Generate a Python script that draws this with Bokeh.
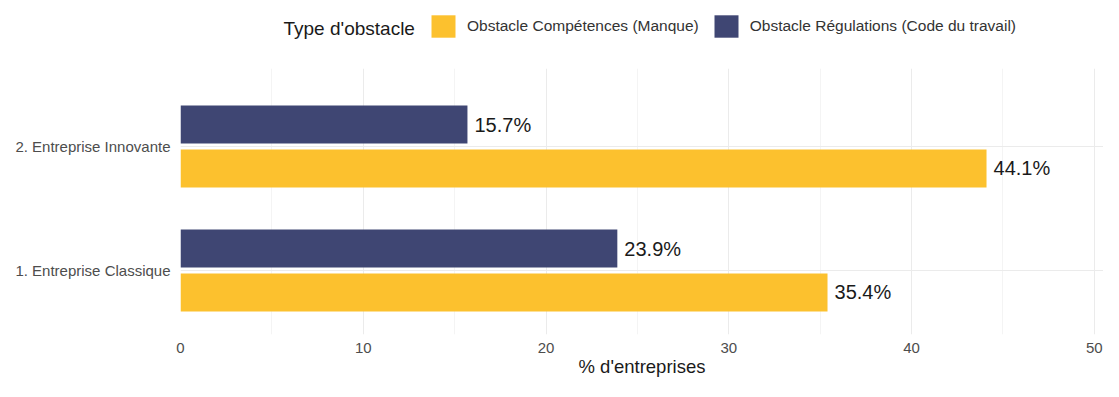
from bokeh.plotting import figure
from bokeh.layouts import column
from bokeh.models import (ColumnDataSource, FixedTicker, LinearAxis, Legend, LegendItem,
                          Range1d, Grid, Label)
from bokeh.transform import dodge
from bokeh.core.properties import value
from bokeh.embed import file_html
from bokeh.resources import INLINE

categories = ["1. Entreprise Classique", "2. Entreprise Innovante"]
cat_pos = [1, 2]
competences = [35.4, 44.1]
regulations = [23.9, 15.7]
series_names = ["Obstacle Compétences (Manque)", "Obstacle Régulations (Code du travail)"]
legend_title = "Type d'obstacle"
x_title = "% d'entreprises"
x_ticks = [0, 10, 20, 30, 40, 50]
x_minor = [5, 15, 25, 35, 45]

YELLOW = "#FCC12E"
NAVY = "#3F4673"
FONT = "Liberation Sans"
W = 1103
LEG_H = 60
CHART_H = 321
LEFT = 180          # frame left (shared by both strips)
FRAME_W = W - LEFT

# ---------------- legend strip ----------------
lf = figure(width=W, height=LEG_H, output_backend="svg", toolbar_location=None,
            x_range=Range1d(0, FRAME_W), y_range=Range1d(0, LEG_H),
            x_axis_location=None, y_axis_location=None,
            min_border_left=LEFT, min_border_right=0,
            min_border_top=0, min_border_bottom=0)
lf.outline_line_color = None
lf.xgrid.visible = False
lf.ygrid.visible = False
dummy = ColumnDataSource(dict(y=[-100], right=[1]))
d_comp = lf.hbar(y="y", right="right", left=0, height=1, source=dummy,
                 fill_color=YELLOW, line_color=None)
d_reg = lf.hbar(y="y", right="right", left=0, height=1, source=dummy,
                fill_color=NAVY, line_color=None)
legend = Legend(items=[LegendItem(label=series_names[0], renderers=[d_comp]),
                       LegendItem(label=series_names[1], renderers=[d_reg])],
                orientation="horizontal", location=(248, 20))
legend.label_text_font = FONT
legend.label_text_font_size = "15.5px"
legend.label_text_color = "#333333"
legend.glyph_width = 30
legend.glyph_height = 28
legend.label_standoff = 9
legend.spacing = 12
legend.padding = 0
legend.margin = 0
legend.border_line_color = None
legend.background_fill_alpha = 0
lf.add_layout(legend)
lf.add_layout(Label(x=103, y=LEG_H - 28, text=legend_title, text_font=FONT,
                    text_font_size="19px", text_color="#1a1a1a",
                    text_baseline="middle", text_align="left"))

# ---------------- chart ----------------
src = ColumnDataSource(dict(
    y=cat_pos,
    comp=competences,
    reg=regulations,
    comp_lbl=[f"{v:.1f}%" for v in competences],
    reg_lbl=[f"{v:.1f}%" for v in regulations],
))

p = figure(width=W, height=CHART_H, output_backend="svg", toolbar_location=None,
           x_range=Range1d(0, 50.5), y_range=Range1d(0.484, 2.629),
           x_axis_location=None, y_axis_location=None,
           min_border_left=LEFT, min_border_right=0, min_border_top=8, min_border_bottom=47)
p.outline_line_color = None
p.xgrid.visible = False
p.ygrid.visible = False

off = 0.177
h = 0.306
r_reg = p.hbar(y=dodge("y", off), left=0, right="reg", height=h, source=src,
               fill_color=NAVY, line_color=None)
r_comp = p.hbar(y=dodge("y", -off), left=0, right="comp", height=h, source=src,
                fill_color=YELLOW, line_color=None)

p.text(x="reg", y=dodge("y", off), text="reg_lbl", source=src, x_offset=7,
       text_baseline="middle", text_align="left", text_font=value(FONT),
       text_font_size="20px", text_color="#1a1a1a")
p.text(x="comp", y=dodge("y", -off), text="comp_lbl", source=src, x_offset=7,
       text_baseline="middle", text_align="left", text_font=value(FONT),
       text_font_size="20px", text_color="#1a1a1a")

xaxis = LinearAxis(ticker=FixedTicker(ticks=x_ticks, minor_ticks=x_minor),
                   axis_label=x_title)
xaxis.axis_line_color = None
xaxis.major_tick_line_color = None
xaxis.minor_tick_line_color = None
xaxis.major_tick_out = 0
xaxis.minor_tick_out = 0
xaxis.major_label_text_font = FONT
xaxis.major_label_text_font_size = "15px"
xaxis.major_label_text_color = "#4D4D4D"
xaxis.major_label_standoff = 8
xaxis.axis_label_text_font = FONT
xaxis.axis_label_text_font_size = "18.5px"
xaxis.axis_label_text_font_style = "normal"
xaxis.axis_label_text_color = "#1a1a1a"
xaxis.axis_label_standoff = 0
p.add_layout(xaxis, "below")

yaxis = LinearAxis(ticker=FixedTicker(ticks=cat_pos),
                   major_label_overrides={c: l for c, l in zip(cat_pos, categories)})
yaxis.axis_line_color = None
yaxis.major_tick_line_color = None
yaxis.minor_tick_line_color = None
yaxis.major_tick_out = 0
yaxis.minor_tick_out = 0
yaxis.major_label_text_font = FONT
yaxis.major_label_text_font_size = "15px"
yaxis.major_label_text_color = "#4D4D4D"
yaxis.major_label_standoff = 10
p.add_layout(yaxis, "left")

xg = Grid(dimension=0, ticker=FixedTicker(ticks=x_ticks, minor_ticks=x_minor),
          grid_line_color="#EBEBEB", minor_grid_line_color="#F4F4F4")
yg = Grid(dimension=1, ticker=FixedTicker(ticks=cat_pos), grid_line_color="#EBEBEB")
p.add_layout(xg)
p.add_layout(yg)

layout = column(lf, p, spacing=0)
open("out.html", "w").write(file_html(layout, INLINE))
